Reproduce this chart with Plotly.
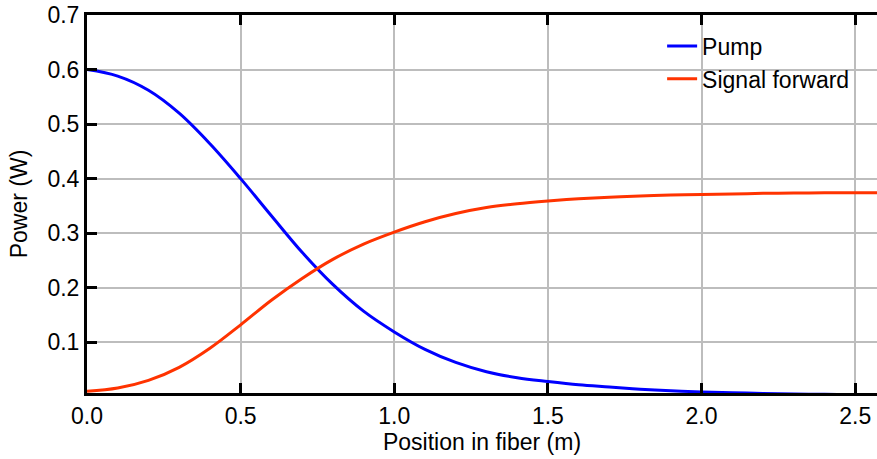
import plotly.graph_objects as go

# Position along the fiber (m)
position = [0.0, 0.1, 0.2, 0.3, 0.4, 0.5, 0.6, 0.7, 0.8, 0.9,
            1.0, 1.1, 1.2, 1.3, 1.4, 1.5, 1.6, 1.7, 1.8, 1.9,
            2.0, 2.1, 2.2, 2.3, 2.4, 2.5, 2.6]

# Pump power (W)
pump = [0.600, 0.588, 0.562, 0.520, 0.464, 0.400, 0.332, 0.265, 0.206, 0.157,
        0.119, 0.087, 0.063, 0.046, 0.035, 0.028, 0.022, 0.018, 0.014, 0.011,
        0.009, 0.0075, 0.0063, 0.0053, 0.0045, 0.0039, 0.0034]

# Forward signal power (W)
signal_fwd = [0.010, 0.016, 0.030, 0.054, 0.089, 0.132, 0.177, 0.217, 0.252, 0.280,
              0.302, 0.321, 0.336, 0.347, 0.354, 0.359, 0.363, 0.366, 0.368, 0.370,
              0.371, 0.372, 0.373, 0.3735, 0.374, 0.374, 0.374]

x_ticks = [0.0, 0.5, 1.0, 1.5, 2.0, 2.5]
y_ticks = [0.1, 0.2, 0.3, 0.4, 0.5, 0.6, 0.7]

FONT = "Liberation Sans, Arial, sans-serif"
FS = 23

fig = go.Figure()
fig.add_trace(go.Scatter(x=position, y=pump, mode="lines", name="Pump",
                         line=dict(color="#0000ff", width=3, shape="spline", smoothing=1.0)))
fig.add_trace(go.Scatter(x=position, y=signal_fwd, mode="lines", name="Signal forward",
                         line=dict(color="#ff3300", width=3, shape="spline", smoothing=1.0)))

axis_common = dict(
    showline=True, linecolor="black", linewidth=3,
    ticks="inside", ticklen=10, tickwidth=3, tickcolor="black",
    showgrid=True, gridcolor="#bdbdbd", gridwidth=1.7,
    zeroline=False,
    tickfont=dict(family=FONT, size=FS, color="black"),
)

fig.update_xaxes(
    range=[0, 2.571], tickvals=x_ticks, tickformat=".1f", mirror="ticks",
    title=dict(text="Position in fiber (m)", font=dict(family=FONT, size=FS, color="black"),
               standoff=6),
    **axis_common,
)
fig.update_yaxes(
    range=[0.007, 0.7], tickvals=y_ticks, tickformat=".1f", mirror=False,
    title=dict(text="Power (W)", font=dict(family=FONT, size=FS, color="black"),
               standoff=14),
    **axis_common,
)

fig.update_layout(
    width=877, height=459,
    margin=dict(l=87, r=0, t=15, b=66),
    paper_bgcolor="white", plot_bgcolor="white",
    font=dict(family=FONT, size=FS, color="black"),
    legend=dict(x=0.728, y=0.975, xanchor="left", yanchor="top",
                bgcolor="rgba(0,0,0,0)", borderwidth=0,
                font=dict(family=FONT, size=FS, color="black")),
)

fig.write_html("out.html")
